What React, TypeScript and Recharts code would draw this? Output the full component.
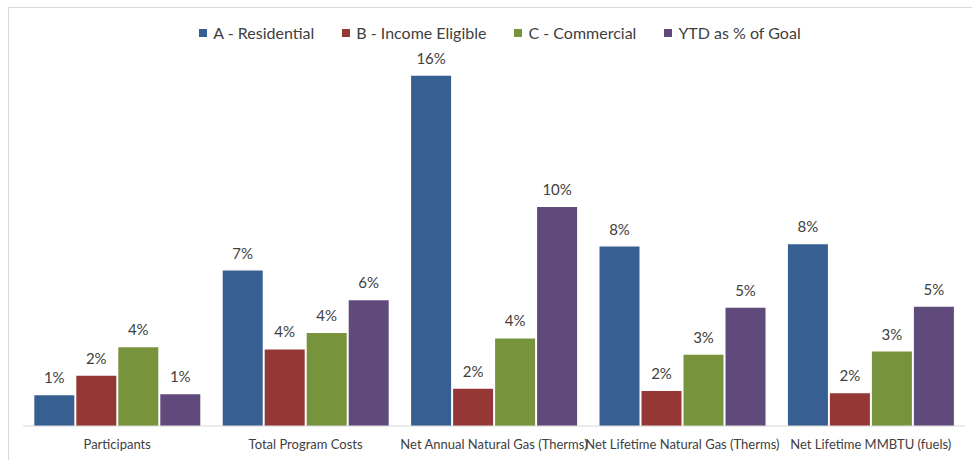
import React from 'react'
import { BarChart, Bar, XAxis, YAxis, LabelList } from 'recharts'

const categories = [
  'Participants',
  'Total Program Costs',
  'Net Annual Natural Gas (Therms)',
  'Net Lifetime Natural Gas (Therms)',
  'Net Lifetime MMBTU (fuels)',
]
const residential = [1.4, 7.1, 16.0, 8.2, 8.3]
const incomeEligible = [2.3, 3.5, 1.7, 1.6, 1.5]
const commercial = [3.6, 4.25, 4.0, 3.25, 3.4]
const ytdGoal = [1.45, 5.75, 10.0, 5.4, 5.45]

const series = [
  { key: 'residential', name: 'A - Residential', color: '#375F92' },
  { key: 'incomeEligible', name: 'B - Income Eligible', color: '#953735' },
  { key: 'commercial', name: 'C - Commercial', color: '#77933C' },
  { key: 'ytdGoal', name: 'YTD as % of Goal', color: '#604A7B' },
]

const data = categories.map((c, i) => ({
  category: c,
  residential: residential[i],
  incomeEligible: incomeEligible[i],
  commercial: commercial[i],
  ytdGoal: ytdGoal[i],
}))

const FONT = 'Lato, "Open Sans", sans-serif'
const pct = (v: any) => `${Math.round(Number(v))}%`

export default function App() {
  return (
    <div style={{ position: 'absolute', left: 0, top: 0, width: 972, height: 460, background: '#fff', fontFamily: FONT }}>
      {/* chart frame (top + left edge visible) */}
      <div style={{ position: 'absolute', left: 8, top: 7, width: 964, height: 453, borderTop: '1px solid #d9d9d9', borderLeft: '1px solid #d9d9d9' }} />

      <div style={{ position: 'absolute', top: 23, left: 0, width: 972, display: 'flex', justifyContent: 'center', paddingLeft: 28, boxSizing: 'border-box' }}>
        {series.map(s => (
          <div key={s.key} style={{ display: 'flex', alignItems: 'center', margin: '0 14px', fontSize: 16, color: '#404040' }}>
            <span style={{ width: 8, height: 8, background: s.color, display: 'inline-block', marginRight: 6 }} />
            {s.name}
          </div>
        ))}
      </div>

      <div style={{ position: 'absolute', left: 0, top: 0 }}>
        <BarChart width={972} height={460} data={data} margin={{ top: 32, right: 7, left: 23, bottom: 0 }}
          barCategoryGap="6%" barGap={2}>
          <XAxis dataKey="category" interval={0} height={34} axisLine={{ stroke: '#d9d9d9' }} tickLine={false}
            tick={{ fontSize: 13, fill: '#404040', fontFamily: FONT }} tickMargin={8} />
          <YAxis hide domain={[0, 18]} />
          {series.map(s => (
            <Bar key={s.key} dataKey={s.key} name={s.name} fill={s.color} isAnimationActive={false}>
              <LabelList dataKey={s.key} position="top" offset={12} formatter={pct}
                style={{ fontSize: 15, fill: '#404040', fontFamily: FONT }} />
            </Bar>
          ))}
        </BarChart>
      </div>
    </div>
  )
}
